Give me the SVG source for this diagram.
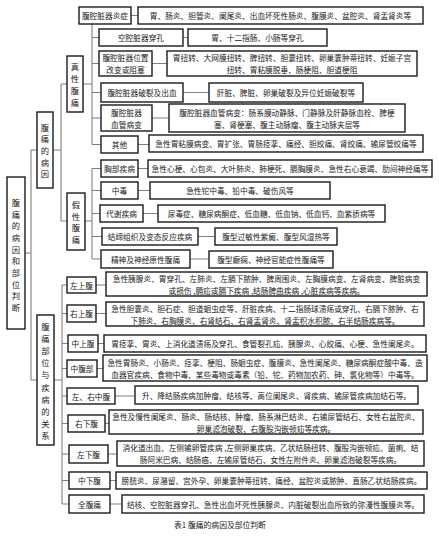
<svg xmlns="http://www.w3.org/2000/svg" width="439" height="553" viewBox="0 0 439 553">
<style>
rect.b{fill:#fff;stroke:#1a1a1a;stroke-width:1.4}
text{font-family:"Noto Sans CJK SC","Noto Sans",sans-serif;font-size:7.7px;fill:#222;text-anchor:middle;dominant-baseline:central}
text.v{font-size:8.3px}
.l{stroke:#808080;stroke-width:1.1;fill:none}
</style>
<rect width="439" height="553" fill="#fff"/>
<g id="connectors" class="l">
<path d="M25 253H31M31 150V380M31 150H37M31 380H37"/>
<path d="M53 150H61M61 84V221M61 84H67M61 221H67"/>
<path d="M83 84H92M92 24V144.5M92 37.5H99M92 63.5H99M92 92.5H101M92 118H101M92 144.5H101"/>
<path d="M85 221H92M92 168.5V259M92 168.5H101M92 190.5H101M92 213.5H100M92 236.5H102M92 259H101"/>
<path d="M54 380H62M62 285V504M62 285H67M62 313.5H67M62 343.5H68M62 368.5H67M62 396H67M62 423.5H68M62 454H69M62 480.5H69M62 504H69"/>
<path d="M131 15.5H138M183 37.5H188M152 63.5H167M183 92.5H209M152 118H169M138 144.5H149"/>
<path d="M138 168.5H148M138 190.5H150M143 213.5H158M198 236.5H215M190 259H209"/>
<path d="M96 285H106M96 313.5H106M98 343.5H104M97 368.5H103M115 396H135M105 423.5H109M108 454H117M110 480.5H116M110 504H122"/>
</g>
<g id="root"><rect class="b" x="7" y="177" width="18" height="152"/>
<text class="v"><tspan x="16" y="202">腹</tspan><tspan x="16" y="213.7">痛</tspan><tspan x="16" y="225.3">的</tspan><tspan x="16" y="237">病</tspan><tspan x="16" y="248.7">因</tspan><tspan x="16" y="260.3">和</tspan><tspan x="16" y="272">部</tspan><tspan x="16" y="283.7">位</tspan><tspan x="16" y="295.3">判</tspan><tspan x="16" y="307">断</tspan></text></g>
<g id="cause"><rect class="b" x="37" y="112" width="16" height="76"/>
<text class="v"><tspan x="45" y="126.6">腹</tspan><tspan x="45" y="138.3">痛</tspan><tspan x="45" y="150">的</tspan><tspan x="45" y="161.7">病</tspan><tspan x="45" y="173.4">因</tspan></text></g>
<g id="site"><rect class="b" x="37" y="315" width="17" height="130"/>
<text class="v"><tspan x="45.5" y="326">腹</tspan><tspan x="45.5" y="338.1">痛</tspan><tspan x="45.5" y="350.2">部</tspan><tspan x="45.5" y="362.3">位</tspan><tspan x="45.5" y="374.4">与</tspan><tspan x="45.5" y="386.5">疾</tspan><tspan x="45.5" y="398.6">病</tspan><tspan x="45.5" y="410.7">的</tspan><tspan x="45.5" y="422.8">关</tspan><tspan x="45.5" y="434.9">系</tspan></text></g>
<g id="true"><rect class="b" x="67" y="56" width="16" height="56"/>
<text class="v"><tspan x="75" y="66">真</tspan><tspan x="75" y="78">性</tspan><tspan x="75" y="90">腹</tspan><tspan x="75" y="102">痛</tspan></text></g>
<g id="false"><rect class="b" x="67" y="193" width="18" height="57"/>
<text class="v"><tspan x="76" y="204">假</tspan><tspan x="76" y="215.7">性</tspan><tspan x="76" y="227.3">腹</tspan><tspan x="76" y="239">痛</tspan></text></g>

<g id="a1"><rect class="b" x="79" y="7" width="52" height="17"/><text x="105" y="15.5">腹腔脏器炎症</text></g>
<g id="a1c"><rect class="b" x="138" y="7" width="285" height="17"/><text x="280.5" y="15.5">胃、肠炎、胆管炎、阑尾炎、出血坏死性肠炎、腹膜炎、盆腔炎、肾盂肾炎等</text></g>
<g id="a2"><rect class="b" x="99" y="29" width="84" height="17"/><text x="141" y="37.5">空腔脏器穿孔</text></g>
<g id="a2c"><rect class="b" x="188" y="29" width="139" height="17"/><text x="257.5" y="37.5">胃、十二指肠、小肠等穿孔</text></g>
<g id="a3"><rect class="b" x="99" y="51" width="53" height="25"/><text x="125.5" y="57.5">腹腔脏器位置</text><text x="125.5" y="69.5">改变或阻塞</text></g>
<g id="a3c"><rect class="b" x="167" y="51" width="250" height="25"/><text x="292" y="57.5">胃扭转、大网膜扭转、脾扭转、胆囊扭转、卵巢囊肿蒂扭转、妊娠子宫</text><text x="292" y="69.5">扭转、胃粘膜脱垂、肠梗阻、胆道梗阻</text></g>
<g id="a4"><rect class="b" x="101" y="83" width="82" height="19"/><text x="142" y="92.5">腹腔脏器破裂及出血</text></g>
<g id="a4c"><rect class="b" x="209" y="83" width="154" height="19"/><text x="286" y="92.5">肝脏、脾脏、卵巢破裂及异位妊娠破裂等</text></g>
<g id="a5"><rect class="b" x="101" y="105" width="51" height="26"/><text x="126.5" y="112">腹腔脏器</text><text x="126.5" y="124">血管病变</text></g>
<g id="a5c"><rect class="b" x="169" y="104" width="236" height="28"/><text x="287" y="112">腹腔脏器血管病变：肠系膜动静脉、门静脉及肝静脉血栓、脾梗</text><text x="287" y="124">塞、肾梗塞、腹主动脉瘤、腹主动脉夹层等</text></g>
<g id="a6"><rect class="b" x="101" y="136" width="37" height="17"/><text x="119.5" y="144.5">其他</text></g>
<g id="a6c"><rect class="b" x="149" y="135" width="274" height="17"/><text x="286" y="143.5">急性胃粘膜病变、胃扩张、胃肠痉挛、痛经、胆绞痛、肾绞痛、输尿管绞痛等</text></g>

<g id="b1"><rect class="b" x="101" y="160" width="37" height="17"/><text x="119.5" y="168.5">胸部疾病</text></g>
<g id="b1c"><rect class="b" x="148" y="160" width="284" height="17"/><text x="290" y="168.5">急性心梗、心包炎、大叶肺炎、肺梗死、膈胸膜炎、急性右心衰竭、肋间神经痛等</text></g>
<g id="b2"><rect class="b" x="101" y="182" width="37" height="17"/><text x="119.5" y="190.5">中毒</text></g>
<g id="b2c"><rect class="b" x="150" y="182" width="180" height="17"/><text x="240" y="190.5">急性铊中毒、铅中毒、破伤风等</text></g>
<g id="b3"><rect class="b" x="100" y="205" width="43" height="17"/><text x="121.5" y="213.5">代谢疾病</text></g>
<g id="b3c"><rect class="b" x="158" y="205" width="227" height="17"/><text x="271.5" y="213.5">尿毒症、糖尿病酮症、低血糖、低血钠、低血钙、血紫质病等</text></g>
<g id="b4"><rect class="b" x="102" y="228" width="96" height="17"/><text x="150" y="236.5">结缔组织及变态反应疾病</text></g>
<g id="b4c"><rect class="b" x="215" y="228" width="122" height="17"/><text x="276" y="236.5">腹型过敏性紫癜、腹型风湿热等</text></g>
<g id="b5"><rect class="b" x="101" y="250" width="89" height="18"/><text x="145.5" y="259">精神及神经原性腹痛</text></g>
<g id="b5c"><rect class="b" x="209" y="251" width="124" height="17"/><text x="271" y="259.5">腹型癫痫、神经官能症性腹痛等</text></g>

<g id="c1"><rect class="b" x="67" y="277" width="29" height="16"/><text x="81.5" y="285">左上腹</text></g>
<g id="c1c"><rect class="b" x="106" y="272" width="321" height="24"/><text x="266.5" y="278">急性胰腺炎、胃穿孔、左肺炎、左膈下脓肿、脾周围炎、左胸膜病变、左肾病变、脾脏病变</text><text x="266.5" y="290">或损伤 ,膈疝或膈下疾病 ,结肠脾曲疾病 ,心脏疾病等疾病。</text></g>
<g id="c2"><rect class="b" x="67" y="305" width="29" height="17"/><text x="81.5" y="313.5">右上腹</text></g>
<g id="c2c"><rect class="b" x="106" y="302" width="318" height="24"/><text x="265" y="308">急性胆囊炎、胆石症、胆道蛔虫症等、肝脏疾病、十二指肠球溃疡或穿孔、右膈下脓肿、右</text><text x="265" y="320">下肺炎、右胸膜炎、右肾结石、右肾盂肾炎、肾盂积水积脓、右半结肠疾病等。</text></g>
<g id="c3"><rect class="b" x="68" y="335" width="30" height="17"/><text x="83" y="343.5">中上腹</text></g>
<g id="c3c"><rect class="b" x="104" y="335" width="322" height="17"/><text x="265" y="343.5">胃痉挛、胃炎、上消化道溃疡及穿孔、食管裂孔疝、胰腺炎、心绞痛、心梗、急性阑尾炎。</text></g>
<g id="c4"><rect class="b" x="67" y="360" width="30" height="17"/><text x="82" y="368.5">中腹部</text></g>
<g id="c4c"><rect class="b" x="103" y="355" width="324" height="26"/><text x="265" y="362">急性胃肠炎、小肠炎、痉挛、梗阻、肠蛔虫症、腹膜炎、急性阑尾炎、糖尿病酮症酸中毒、造</text><text x="265" y="374">血器官疾病、食物中毒、某些毒物或毒素（铅、铊、药物加农药、砷、氯化物等）中毒等。</text></g>
<g id="c5"><rect class="b" x="67" y="388" width="48" height="16"/><text x="91" y="396">左、右中腹</text></g>
<g id="c5c"><rect class="b" x="135" y="386" width="283" height="18"/><text x="276.5" y="395">升、降结肠疾病加肿瘤、结核等、高位阑尾炎、肾疾病、输尿管疾病加结石等。</text></g>
<g id="c6"><rect class="b" x="68" y="415" width="37" height="17"/><text x="86.5" y="423.5">右下腹</text></g>
<g id="c6c"><rect class="b" x="109" y="410" width="314" height="24"/><text x="266" y="416">急性及慢性阑尾炎、肠炎、肠结核、肿瘤、肠系淋巴结炎、右输尿管结石、女性右盆腔炎、</text><text x="266" y="428">卵巢滤泡破裂、右腹股沟嵌顿疝等疾病。</text></g>
<g id="c7"><rect class="b" x="69" y="445" width="39" height="18"/><text x="88.5" y="454">左下腹</text></g>
<g id="c7c"><rect class="b" x="117" y="441" width="307" height="25"/><text x="270.5" y="447.5">消化道出血、左侧输卵管疾病 ,左侧卵巢疾病、乙状结肠扭转、腹股沟嵌顿疝、菌痢、结</text><text x="270.5" y="459.5">肠阿米巴病、结肠癌、左输尿管结石、女性左附件炎、卵巢滤泡破裂等疾病。</text></g>
<g id="c8"><rect class="b" x="69" y="472" width="41" height="17"/><text x="89.5" y="480.5">中下腹</text></g>
<g id="c8c"><rect class="b" x="116" y="472" width="311" height="17"/><text x="271.5" y="480.5">膀胱炎、尿潴留、宫外孕、卵巢囊肿蒂扭转、痛经、盆腔炎或脓肿、直肠乙状结肠疾病。</text></g>
<g id="c9"><rect class="b" x="69" y="495" width="41" height="18"/><text x="89.5" y="504">全腹痛</text></g>
<g id="c9c"><rect class="b" x="122" y="495" width="302" height="18"/><text x="273" y="504">结核、空腔脏器穿孔、急性出血坏死性胰腺炎、内脏破裂出血所致的弥漫性腹膜炎等。</text></g>
<text x="220" y="524" style="font-size:7.8px">表1 腹痛的病因及部位判断</text>
</svg>
